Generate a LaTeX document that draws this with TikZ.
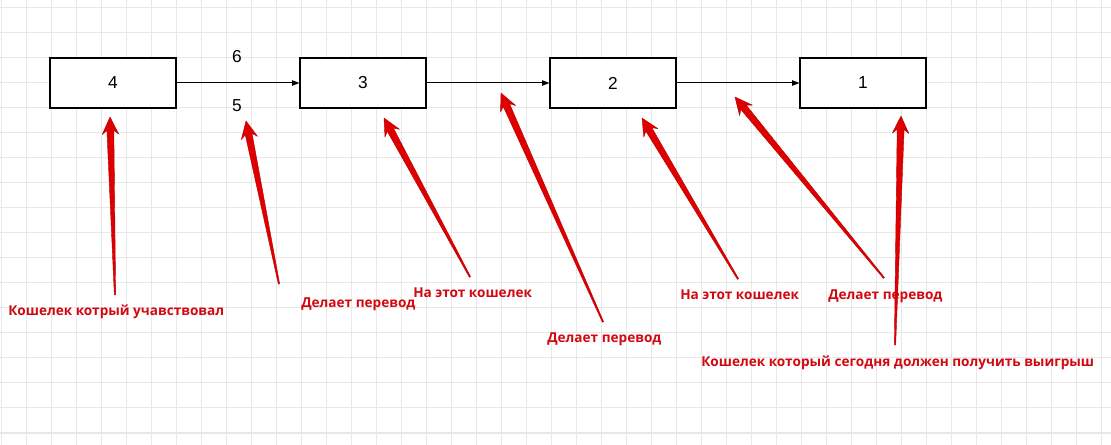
\documentclass[tikz,border=0pt]{standalone}
\usepackage{fontspec}
\setmainfont{Liberation Sans}
\newfontfamily\redfont{Open Sans}
\usetikzlibrary{arrows.meta,calc}
\definecolor{gridc}{RGB}{232,232,232}
\definecolor{calloutred}{RGB}{222,0,0}
\definecolor{calloutedge}{RGB}{185,0,0}
\definecolor{labelred}{RGB}{210,8,16}
\tikzset{
  box/.style={draw=black,line width=0.8pt,fill=white,minimum width=94.5pt,minimum height=37.5pt,inner sep=0pt,font=\fontsize{13}{15}\selectfont},
  conn/.style={draw=black,line width=0.75pt,-{Triangle[length=5.5pt,width=4pt]}},
  numlabel/.style={inner sep=0pt,font=\fontsize{13}{15}\selectfont},
  redlabel/.style={anchor=base west,inner sep=0pt,text=labelred,font=\redfont\bfseries\fontsize{10.2}{12}\selectfont},
  callout/.style={fill=calloutred,draw=calloutedge,line width=0.3pt,line join=round}
}
\newcommand\redcallout[2]{%
  \coordinate (rcS) at ($(#2)!10pt!(#1)$);
  \coordinate (rcB) at ($(#2)!13pt!(#1)$);
  \filldraw[callout] ($(#1)!0.5pt!90:(#2)$) -- ($(rcS)!2.6pt!-90:(#1)$) -- ($(rcB)!6.2pt!-90:(#1)$) -- (#2) -- ($(rcB)!6.2pt!90:(#1)$) -- ($(rcS)!2.6pt!90:(#1)$) -- ($(#1)!0.5pt!-90:(#2)$) -- cycle;}
\begin{document}
\begin{tikzpicture}[x=0.75pt,y=-0.75pt]
\useasboundingbox (0,0) rectangle (1111,445);
\fill[white] (0,0) rectangle (1111,445);
\foreach \i in {0,...,44} \draw[gridc,line width=0.75pt] ({1+25.02*\i},0) -- ++(0,445);
\foreach \j in {0,...,17} \draw[gridc,line width=0.75pt] (0,{8+25*\j}) -- ++(1111,0);
% boxes
\node[box] (b4) at (113,83) {4};
\node[box] (b3) at (363,83) {3};
\node[box] (b2) at (613,83) {2};
\node[box] (b1) at (863,83) {1};
\draw[conn] (b4) -- (b3);
\draw[conn] (b3) -- (b2);
\draw[conn] (b2) -- (b1);
\node[numlabel] (n6) at (237,57) {6};
\node[numlabel] (n5) at (237,106) {5};
% red labels
\node[redlabel] (l1) at (8,316) {Кошелек котрый учавствовал};
\node[redlabel] (l2) at (301,308) {Делает перевод};
\node[redlabel] (l3) at (413,298) {На этот кошелек};
\node[redlabel] (l4) at (547,343) {Делает перевод};
\node[redlabel] (l5) at (680,300) {На этот кошелек};
\node[redlabel] (l6) at (828,300) {Делает перевод};
\node[redlabel] (l7) at (701,367) {Кошелек который сегодня должен получить выигрыш};
% callout arrows
\coordinate (t1) at (115,295); \coordinate (p1) at (110,117);
\coordinate (t2) at (279,284); \coordinate (p2) at (246,121);
\coordinate (t3) at (470,277); \coordinate (p3) at (384,118);
\coordinate (t4) at (603,322); \coordinate (p4) at (501,93);
\coordinate (t5) at (738,279); \coordinate (p5) at (642,118);
\coordinate (t6) at (884,278); \coordinate (p6) at (735,97);
\coordinate (t7) at (895,345); \coordinate (p7) at (901,116);
\redcallout{t1}{p1}
\redcallout{t2}{p2}
\redcallout{t3}{p3}
\redcallout{t4}{p4}
\redcallout{t5}{p5}
\redcallout{t6}{p6}
\redcallout{t7}{p7}
\end{tikzpicture}
\end{document}
